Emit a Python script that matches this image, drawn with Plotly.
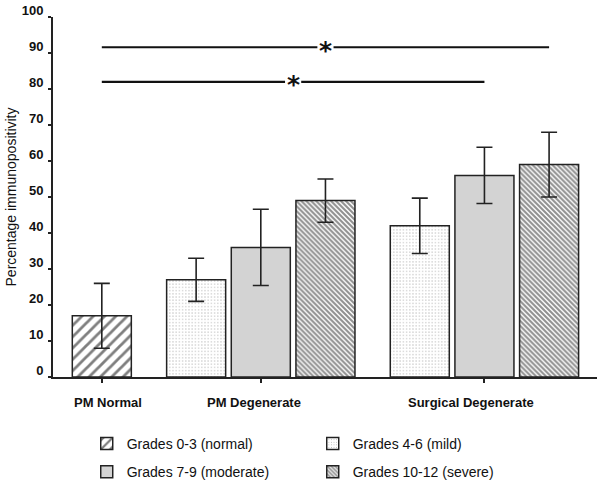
import plotly.graph_objects as go

# ---------------- data ----------------
groups = ["PM Normal", "PM Degenerate", "Surgical Degenerate"]
series_names = ["Grades 0-3 (normal)", "Grades 4-6 (mild)",
                "Grades 7-9 (moderate)", "Grades 10-12 (severe)"]
# values per group (None = no bar)
normal_vals = [17, None, None]
normal_err = [9, None, None]
mild_vals = [None, 27, 42]
mild_err = [None, 6, 7.7]
moderate_vals = [None, 36, 56]
moderate_err = [None, 10.6, 7.8]
severe_vals = [None, 49, 59]
severe_err = [None, 6, 9]
y_ticks = [0, 10, 20, 30, 40, 50, 60, 70, 80, 90, 100]
# significance comparisons: (group, series) -> (group, series), level
comparisons = [
    (("PM Normal", 0), ("Surgical Degenerate", 3), 91.6),
    (("PM Normal", 0), ("Surgical Degenerate", 2), 82),
]

# ---------------- layout helpers ----------------
FONT = "Arial, Liberation Sans, sans-serif"
values = [normal_vals, mild_vals, moderate_vals, severe_vals]
errors = [normal_err, mild_err, moderate_err, severe_err]
GROUP_GAP = 1.459
BAR_W = 0.913

positions = {}
cursor = 0.0
group_centers = {}
for gi, g in enumerate(groups):
    members = [si for si in range(len(values)) if values[si][gi] is not None]
    if gi > 0:
        cursor += GROUP_GAP - 1
    xs = []
    for si in members:
        positions[(g, si)] = cursor
        xs.append(cursor)
        cursor += 1
    group_centers[g] = (xs[0] + xs[-1]) / 2

patterns = [
    dict(shape="/", size=8, solidity=0.35, fgcolor="#000", bgcolor="white"),
    dict(shape=".", size=3.2, solidity=0.12, fgcolor="#555", bgcolor="white"),
    dict(shape="", fgcolor="#d3d3d3", bgcolor="#d3d3d3"),
    dict(shape="\\", size=3.5, solidity=0.6, fgcolor="#222", bgcolor="white"),
]
fills = ["white", "white", "#d3d3d3", "white"]
legend_ids = ["legend", "legend", "legend2", "legend2"]

fig = go.Figure()
for si, name in enumerate(series_names):
    xs, ys, es = [], [], []
    for gi, g in enumerate(groups):
        if values[si][gi] is not None:
            xs.append(positions[(g, si)])
            ys.append(values[si][gi])
            es.append(errors[si][gi])
    fig.add_trace(go.Bar(
        x=xs, y=ys, width=BAR_W, name=name,
        marker=dict(color=fills[si], pattern=patterns[si],
                    line=dict(color="#222", width=1.5)),
        error_y=dict(type="data", array=es, visible=True, color="#222",
                     thickness=1.6, width=8),
        legend=legend_ids[si], showlegend=True,
    ))

GAP = 0.125
for (a, b, lvl) in comparisons:
    x0 = positions[a]
    x1 = positions[b]
    xm = (x0 + x1) / 2
    fig.add_trace(go.Scatter(
        x=[x0, xm - GAP, None, xm + GAP, x1], y=[lvl, lvl, None, lvl, lvl],
        mode="lines", line=dict(color="#111", width=2.2),
        showlegend=False, hoverinfo="skip"))
    fig.add_annotation(x=xm, y=lvl, text="*", showarrow=False,
                       font=dict(family="DejaVu Sans", size=25, color="#111",
                                 weight="bold"),
                       xanchor="center", yanchor="middle", yshift=-3)

label_offsets = {"PM Normal": 0.1, "PM Degenerate": -0.1, "Surgical Degenerate": -0.21}
for g in groups:
    fig.add_annotation(x=group_centers[g] + label_offsets[g], y=-0.072,
                       yref="paper", text=g, showarrow=False,
                       font=dict(family=FONT, size=13, color="#111", weight="bold"),
                       xanchor="center", yanchor="middle")

fig.update_layout(
    width=600, height=493,
    margin=dict(l=53, r=3, t=17, b=116, autoexpand=False),
    paper_bgcolor="white", plot_bgcolor="white",
    barmode="overlay",
    font=dict(family=FONT, color="#111"),
    xaxis=dict(range=[-0.755, 7.659], showgrid=False, zeroline=False,
               showline=True, linecolor="#222", linewidth=2, automargin=False,
               tickvals=[group_centers[g] for g in groups],
               ticktext=["" for g in groups],
               ticks="outside", ticklen=4, tickwidth=1.5, tickcolor="#222"),
    yaxis=dict(range=[0, 100], showgrid=False, zeroline=False, automargin=False,
               showline=True, linecolor="#222", linewidth=2,
               tickvals=y_ticks, ticks="outside", ticklen=3, tickwidth=1.5,
               tickcolor="#222",
               tickfont=dict(family=FONT, size=13, color="#111", weight="bold"),
               ticklabelstandoff=2, ticklabelshift=-7,
               title=dict(text="Percentage immunopositivity", standoff=2,
                          font=dict(family=FONT, size=14, color="#111"))),
    legend=dict(orientation="h", x=0.062, xanchor="left", y=-0.186,
                yanchor="middle", entrywidth=181, bgcolor="rgba(0,0,0,0)",
                font=dict(family=FONT, size=14, color="#111")),
    legend2=dict(orientation="h", x=0.062, xanchor="left", y=-0.264,
                 yanchor="middle", entrywidth=181, bgcolor="rgba(0,0,0,0)",
                 font=dict(family=FONT, size=14, color="#111")),
)

fig.write_html("out.html", config={"displayModeBar": False},
               post_script="document.body.style.margin='0px';")
